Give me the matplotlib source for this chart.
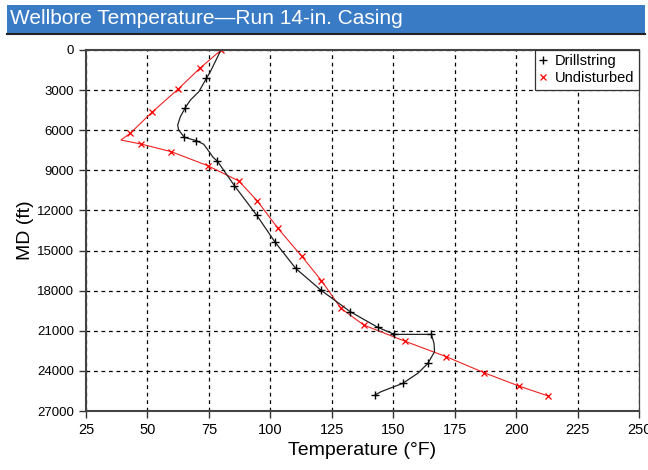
import matplotlib
matplotlib.use('Agg')
from matplotlib import pyplot as plt
from matplotlib.patches import Rectangle
from matplotlib.lines import Line2D

plt.rcParams['font.family'] = ['Liberation Sans', 'DejaVu Sans']

title = 'Wellbore Temperature\u2014Run 14-in. Casing'

# undisturbed: traced line (incl. kink at the tip) and marker points
undist_line_T = [80.0, 71.3, 62.4, 51.8, 43.0, 39.2, 47.3, 59.6, 74.5, 87.2, 94.7, 103.1,
                 112.7, 120.8, 128.7, 138.0, 154.6, 171.6, 187.0, 201.1, 213.1]
undist_line_MD = [0, 1370, 2940, 4660, 6230, 6730, 7030, 7600, 8650, 9800, 11290, 13340,
                  15410, 17250, 19320, 20570, 21770, 22940, 24140, 25130, 25880]
undist_mark_T = [80.0, 71.3, 62.4, 51.8, 43.0, 47.3, 59.6, 74.5, 87.2, 94.7, 103.1,
                 112.7, 120.8, 128.7, 138.0, 154.6, 171.6, 187.0, 201.1, 213.1]
undist_mark_MD = [0, 1370, 2940, 4660, 6230, 7030, 7600, 8650, 9800, 11290, 13340,
                  15410, 17250, 19320, 20570, 21770, 22940, 24140, 25130, 25880]

# drillstring: traced curve and marker points
drill_line_T = [79.5, 75.6, 74.0, 70.9, 67.5, 65.4, 63.4, 62.3, 62.7, 65.0, 69.9, 72.9,
                75.6, 76.7, 78.4, 85.4, 94.4, 101.8, 110.3, 120.5, 132.5, 143.7, 150.5,
                165.5, 166.6, 166.8, 164.1, 160.0, 153.9, 145.0, 142.6]
drill_line_MD = [150, 1620, 2120, 3120, 3740, 4310, 4990, 5610, 5980, 6530, 6780, 7050,
                 7730, 8030, 8300, 10150, 12340, 14340, 16330, 17950, 19570, 20740, 21270,
                 21270, 21940, 22570, 23440, 24180, 24930, 25560, 25800]
drill_mark_T = [74.0, 65.4, 65.0, 69.9, 78.4, 85.4, 94.4, 101.8, 110.3,
                120.5, 132.5, 143.7, 150.5, 165.5, 164.1, 153.9, 142.6]
drill_mark_MD = [2120, 4310, 6530, 6780, 8300, 10150, 12340, 14340, 16330,
                 17950, 19570, 20740, 21270, 21270, 23440, 24930, 25800]

xticks = list(range(25, 251, 25))
yticks = list(range(0, 27001, 3000))

fig = plt.figure(figsize=(6.48, 4.70), dpi=100)

# title bar
fig.patches.append(Rectangle((7/648, 1-33/470), 638/648, 28/470, transform=fig.transFigure,
                             facecolor='#3a7bc5', edgecolor='none', zorder=0))
fig.add_artist(Line2D([7/648, 645/648], [1-33.5/470, 1-33.5/470], transform=fig.transFigure,
                      color='#222222', lw=1.5))
fig.text(10/648, 1-19/470, title, color='white', fontsize=15, va='center', ha='left')

ax = fig.add_axes([86/648, 1-411/470, 553/648, 361/470])

ax.plot(undist_line_T, undist_line_MD, color='#ee2222', lw=0.8)
ax.plot(undist_mark_T, undist_mark_MD, ls='none', marker='x', color='red', ms=5, mew=0.9)
ax.plot(drill_line_T, drill_line_MD, color='#222222', lw=0.9)
ax.plot(drill_mark_T, drill_mark_MD, ls='none', marker='+', color='black', ms=6, mew=1.0)

ax.set_xlim(25, 250)
ax.set_ylim(27000, 0)
ax.set_xticks(xticks)
ax.set_yticks(yticks)
ax.grid(True, color='black', ls=(0, (3, 3)), lw=0.9)
ax.tick_params(direction='out', length=5, width=1, colors='#333333', labelcolor='black')
ax.tick_params(axis='x', labelsize=10.5)
ax.tick_params(axis='y', labelsize=9.5)
for s in ['left', 'bottom', 'top']:
    ax.spines[s].set_color('#444444')
    ax.spines[s].set_linewidth(1.5)
ax.spines['right'].set_color('#444444')
ax.spines['right'].set_linewidth(0.9)

ax.set_xlabel('Temperature (\u00b0F)', fontsize=14, labelpad=4)
ax.set_ylabel('MD (ft)', fontsize=14, labelpad=2)

handles = [Line2D([], [], ls='none', marker='+', color='black', ms=6, mew=1.0),
           Line2D([], [], ls='none', marker='x', color='red', ms=5, mew=0.9)]
leg = ax.legend(handles, ['Drillstring', 'Undisturbed'], loc='upper right', fontsize=10.5,
                borderaxespad=0, fancybox=False, framealpha=1, edgecolor='#333333',
                handlelength=0.6, handletextpad=0.5, borderpad=0.3, labelspacing=0.2)
leg.get_frame().set_linewidth(0.9)

fig.savefig('out.png', dpi=100)
